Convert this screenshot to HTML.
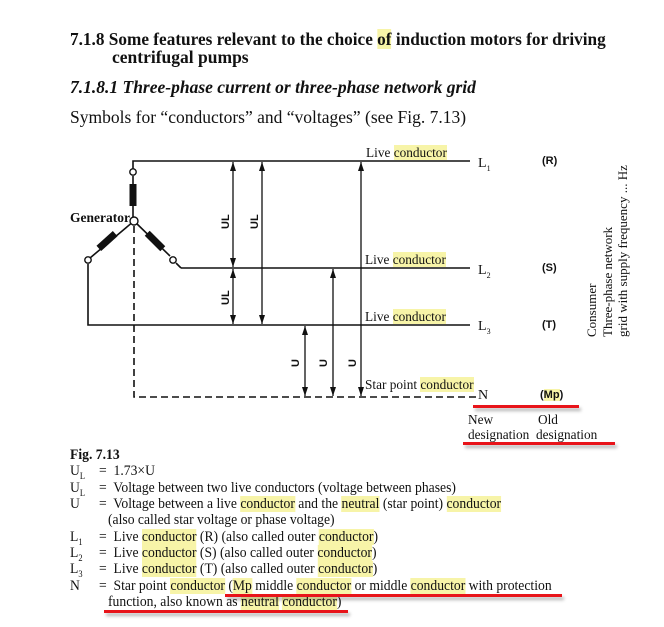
<!DOCTYPE html>
<html><head><meta charset="utf-8"><style>
body{margin:0;background:#fff;}
#c{position:relative;width:664px;height:627px;overflow:hidden;font-family:"Liberation Serif",serif;color:#111;}
.t{position:absolute;white-space:nowrap;line-height:1;}
.h{background:#f7f4a8;}
.r{position:absolute;background:#e8141a;height:3px;box-shadow:2px 3px 3px rgba(0,0,0,0.3);}
.ln{position:absolute;font-size:14.6px;white-space:nowrap;line-height:1;transform:scaleX(0.935);transform-origin:0 0;}
.sm{font-size:13.3px;}
.sans{font-family:"Liberation Sans",sans-serif;font-weight:bold;font-size:11px;}
</style></head><body><div id="c">
<div class="t" style="left:70px;top:31px;font-size:17.5px;font-weight:bold;transform:scaleX(0.985);transform-origin:0 0;">7.1.8 Some features relevant to the choice <span class="h">of</span> induction motors for driving</div>
<div class="t" style="left:112px;top:49px;font-size:17.5px;font-weight:bold;">centrifugal pumps</div>
<div class="t" style="left:70px;top:79px;font-size:17.5px;font-weight:bold;font-style:italic;">7.1.8.1 Three-phase current or three-phase network grid</div>
<div class="t" style="left:70px;top:109px;font-size:17.5px;">Symbols for “conductors” and “voltages” (see Fig. 7.13)</div>

<svg style="position:absolute;left:0;top:0" width="664" height="627">
<g stroke="#111" stroke-width="1.6" fill="none">
<path d="M133,172 V161 H470"/>
<path d="M181,268 H470"/>
<path d="M88,264 V325 H470"/>
<path d="M133,176 V221"/>
<path d="M134,221 L90,258"/>
<path d="M134,221 L170,256"/>
<path d="M176,263 L181,268"/>
<path d="M134,226 V397 H476" stroke-dasharray="7,4"/>
</g>
<g fill="#111"><rect x="129.5" y="184" width="7" height="22"/>
<rect x="-3.5" y="-11" width="7" height="22" transform="translate(107,241) rotate(48)"/>
<rect x="-3.5" y="-11" width="7" height="22" transform="translate(155,241) rotate(-45)"/></g>
<g stroke="#111" stroke-width="1.4" fill="#fff">
<circle cx="133" cy="172" r="3.2"/><circle cx="134" cy="221" r="4"/><circle cx="88" cy="260" r="3.2"/><circle cx="173" cy="260" r="3.2"/></g>
<g stroke="#111" stroke-width="1.3">
<line x1="233" y1="162" x2="233" y2="267"/>
<line x1="233" y1="269" x2="233" y2="324"/>
<line x1="262" y1="162" x2="262" y2="324"/>
<line x1="305" y1="326" x2="305" y2="396"/>
<line x1="333" y1="269" x2="333" y2="396"/>
<line x1="361" y1="162" x2="361" y2="396"/>
</g>
<g fill="#111">
<path d="M233,162 l-3,9 h6z M233,267 l-3,-9 h6z M233,269 l-3,9 h6z M233,324 l-3,-9 h6z"/>
<path d="M262,162 l-3,9 h6z M262,324 l-3,-9 h6z"/>
<path d="M305,326 l-3,9 h6z M305,396 l-3,-9 h6z"/>
<path d="M333,269 l-3,9 h6z M333,396 l-3,-9 h6z"/>
<path d="M361,162 l-3,9 h6z M361,396 l-3,-9 h6z"/>
</g>
<g font-family="Liberation Sans,sans-serif" font-weight="bold" font-size="11" fill="#111">
<text transform="translate(229,229) rotate(-90)">UL</text>
<text transform="translate(258,229) rotate(-90)">UL</text>
<text transform="translate(229,305) rotate(-90)">UL</text>
<text transform="translate(299,367) rotate(-90)">U</text>
<text transform="translate(327,367) rotate(-90)">U</text>
<text transform="translate(356,367) rotate(-90)">U</text>
</g>
<g font-family="Liberation Serif,serif" font-size="13" fill="#111">
<text transform="translate(596,337) rotate(-90)">Consumer</text>
<text transform="translate(612,337) rotate(-90)">Three-phase network</text>
<text transform="translate(627,337) rotate(-90)">grid with supply frequency ... Hz</text>
</g>
</svg>

<div class="t" style="left:70px;top:211px;font-size:13.5px;font-weight:bold;">Generator</div>
<div class="t sm" style="left:366px;top:146px;">Live <span class="h">conductor</span></div>
<div class="t sm" style="left:365px;top:253px;">Live <span class="h">conductor</span></div>
<div class="t sm" style="left:365px;top:310px;">Live <span class="h">conductor</span></div>
<div class="t sm" style="left:365px;top:378px;">Star point <span class="h">conductor</span></div>
<div class="t" style="left:478px;top:157px;font-size:14px;">L<sub style="font-size:8px">1</sub></div>
<div class="t" style="left:478px;top:264px;font-size:14px;">L<sub style="font-size:8px">2</sub></div>
<div class="t" style="left:478px;top:320px;font-size:14px;">L<sub style="font-size:8px">3</sub></div>
<div class="t" style="left:478px;top:389px;font-size:14px;">N</div>
<div class="t sans" style="left:542px;top:156px;">(R)</div>
<div class="t sans" style="left:542px;top:263px;">(S)</div>
<div class="t sans" style="left:542px;top:320px;">(T)</div>
<div class="t sans" style="left:540px;top:390px;">(<span class="h">Mp</span>)</div>
<div class="r" style="left:473px;top:405px;width:106px;"></div>
<div class="t sm" style="left:468px;top:413px;">New</div>
<div class="t sm" style="left:538px;top:413px;">Old</div>
<div class="t sm" style="left:468px;top:428px;">designation &nbsp;designation</div>
<div class="r" style="left:463px;top:442px;width:152px;"></div>

<div class="ln" style="left:70px;top:448px;font-weight:bold;">Fig. 7.13</div>
<div class="ln" style="left:70px;top:464px;">U<sub style="font-size:9px">L</sub></div><div class="ln" style="left:99px;top:464px;">=&nbsp; 1.73×U</div>
<div class="ln" style="left:70px;top:481px;">U<sub style="font-size:9px">L</sub></div><div class="ln" style="left:99px;top:481px;">=&nbsp; Voltage between two live conductors (voltage between phases)</div>
<div class="ln" style="left:70px;top:497px;">U</div><div class="ln" style="left:99px;top:497px;">=&nbsp; Voltage between a live <span class="h">conductor</span> and the <span class="h">neutral</span> (star point) <span class="h">conductor</span></div>
<div class="ln" style="left:108px;top:513px;">(also called star voltage or phase voltage)</div>
<div class="ln" style="left:70px;top:530px;">L<sub style="font-size:9px">1</sub></div><div class="ln" style="left:99px;top:530px;">=&nbsp; Live <span class="h">conductor</span> (R) (also called outer <span class="h">conductor</span>)</div>
<div class="ln" style="left:70px;top:546px;">L<sub style="font-size:9px">2</sub></div><div class="ln" style="left:99px;top:546px;">=&nbsp; Live <span class="h">conductor</span> (S) (also called outer <span class="h">conductor</span>)</div>
<div class="ln" style="left:70px;top:562px;">L<sub style="font-size:9px">3</sub></div><div class="ln" style="left:99px;top:562px;">=&nbsp; Live <span class="h">conductor</span> (T) (also called outer <span class="h">conductor</span>)</div>
<div class="ln" style="left:70px;top:579px;">N</div><div class="ln" style="left:99px;top:579px;">=&nbsp; Star point <span class="h">conductor</span> (<span class="h">Mp</span> middle <span class="h">conductor</span> or middle <span class="h">conductor</span> with protection</div>
<div class="ln" style="left:108px;top:595px;">function, also known as <span class="h">neutral</span> <span class="h">conductor</span>)</div>
<div class="r" style="left:225px;top:594px;width:337px;"></div>
<div class="r" style="left:104px;top:610px;width:244px;"></div>
</div></body></html>
